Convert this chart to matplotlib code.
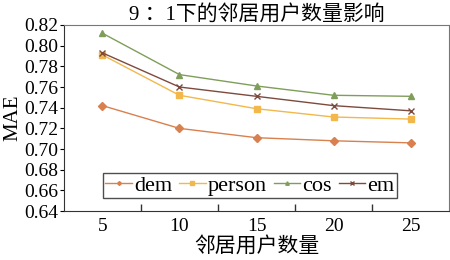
import matplotlib
matplotlib.use('Agg')
import matplotlib.pyplot as plt
import numpy as np

plt.rcParams['font.family'] = ['Liberation Serif', 'Noto Sans CJK SC', 'DejaVu Sans']

# neighbour counts (categorical axis)
neighbours = ['5', '10', '15', '20', '25']
dem = [0.742, 0.720, 0.711, 0.708, 0.706]
person = [0.791, 0.752, 0.739, 0.731, 0.729]
cos = [0.812, 0.772, 0.761, 0.752, 0.751]
em = [0.793, 0.760, 0.751, 0.742, 0.737]
yticks = [0.64, 0.66, 0.68, 0.70, 0.72, 0.74, 0.76, 0.78, 0.80, 0.82]

fig = plt.figure(figsize=(4.5, 2.6), dpi=100)
ax = fig.add_axes([0.142, 0.188, 0.856, 0.716])

x = np.arange(len(neighbours))
ax.plot(x, dem, color='#D9804F', marker='D', ms=4, lw=1, label='dem')
ax.plot(x, person, color='#F2B84B', marker='s', ms=5, lw=1, label='person')
ax.plot(x, cos, color='#7F9E5A', marker='^', ms=5, lw=1, label='cos')
ax.plot(x, em, color='#7D4A3E', marker='x', ms=5, mew=1, lw=1, label='em')

ax.set_xlim(-0.5, len(neighbours) - 0.5)
ax.set_xticks(x, neighbours)
ax.tick_params(axis='x', length=0, labelsize=14, pad=5)
ax.set_xticks(x[:-1] + 0.5, minor=True)
ax.tick_params(axis='x', which='minor', direction='in', length=5, width=1, color='#333333')

ax.set_ylim(0.64, 0.82)
ax.set_yticks(yticks, [f'{v:.2f}' for v in yticks])
ax.tick_params(axis='y', direction='out', length=3, labelsize=14, pad=1)

for side in ['left', 'bottom']:
    ax.spines[side].set_color('#333333')
for side in ['top', 'right']:
    ax.spines[side].set_color('#777777')

ax.set_title('9 ：1下的邻居用户数量影响', fontsize=15, pad=2)
ax.set_xlabel('邻居用户数量', fontsize=15, labelpad=1)
ax.set_ylabel('MAE', fontsize=15, labelpad=1)

leg = ax.legend(loc='center', bbox_to_anchor=(0.483, 0.137), ncol=4, fontsize=16,
                frameon=True, fancybox=False, edgecolor='#222222', handlelength=1.2,
                handletextpad=0.1, columnspacing=0.3, borderpad=0.1, markerscale=0.5)
leg.get_frame().set_linewidth(1.0)

fig.savefig('out.png', dpi=100)
